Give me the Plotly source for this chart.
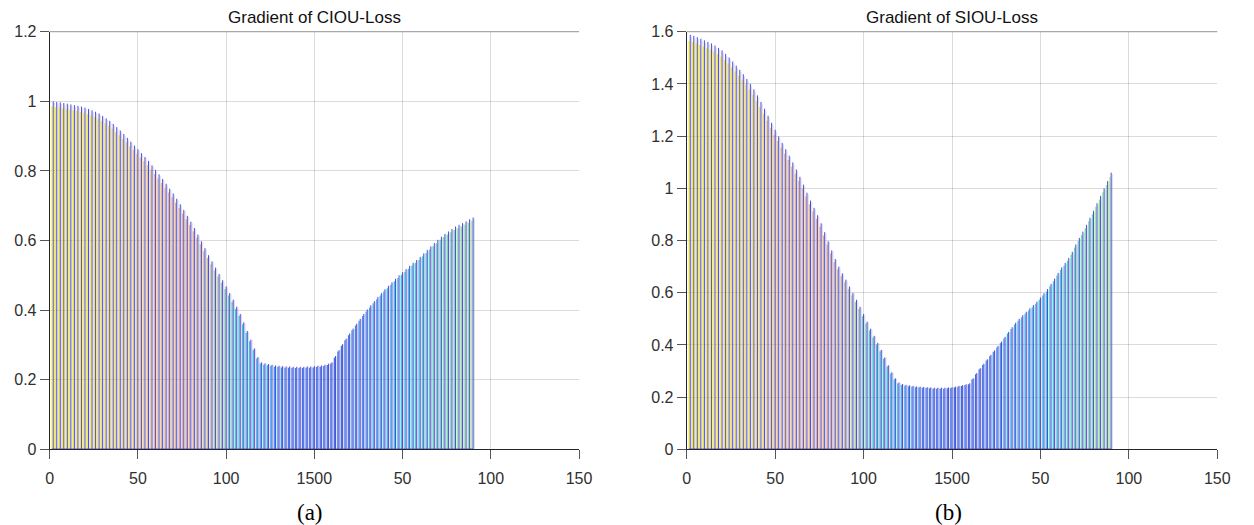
import plotly.graph_objects as go
from plotly.colors import sample_colorscale

# ---------------- data ----------------
stem_x = list(range(1, 121))

ciou_grad = [
    1.000, 0.998, 0.997, 0.995, 0.993, 0.991, 0.989, 0.987, 0.985, 0.982,
    0.978, 0.974, 0.970, 0.965, 0.958, 0.951, 0.944, 0.935, 0.926, 0.916,
    0.906, 0.895, 0.884, 0.873, 0.862, 0.851, 0.840, 0.829, 0.816, 0.803,
    0.790, 0.777, 0.763, 0.749, 0.735, 0.720, 0.704, 0.688, 0.671, 0.654,
    0.636, 0.617, 0.598, 0.578, 0.558, 0.540, 0.522, 0.504, 0.486, 0.468,
    0.449, 0.430, 0.410, 0.389, 0.365, 0.340, 0.315, 0.290, 0.265, 0.250,
    0.247, 0.245, 0.243, 0.241, 0.240, 0.239, 0.238, 0.238, 0.237, 0.237,
    0.237, 0.237, 0.238, 0.238, 0.239, 0.240, 0.241, 0.243, 0.246, 0.250,
    0.268, 0.285, 0.302, 0.318, 0.333, 0.347, 0.361, 0.375, 0.389, 0.402,
    0.414, 0.426, 0.438, 0.449, 0.460, 0.470, 0.480, 0.490, 0.500, 0.509,
    0.518, 0.527, 0.536, 0.544, 0.553, 0.563, 0.573, 0.583, 0.593, 0.602,
    0.611, 0.619, 0.626, 0.633, 0.640, 0.645, 0.650, 0.655, 0.661, 0.666,
]

siou_grad = [
    1.588, 1.584, 1.579, 1.573, 1.567, 1.561, 1.555, 1.547, 1.538, 1.528,
    1.515, 1.501, 1.486, 1.470, 1.454, 1.437, 1.419, 1.400, 1.379, 1.356,
    1.331, 1.305, 1.278, 1.251, 1.224, 1.199, 1.174, 1.150, 1.125, 1.099,
    1.072, 1.044, 1.014, 0.983, 0.953, 0.925, 0.897, 0.866, 0.832, 0.797,
    0.762, 0.729, 0.700, 0.674, 0.650, 0.624, 0.599, 0.573, 0.546, 0.518,
    0.489, 0.462, 0.435, 0.408, 0.381, 0.352, 0.322, 0.295, 0.272, 0.256,
    0.250, 0.247, 0.245, 0.243, 0.241, 0.240, 0.239, 0.238, 0.237, 0.236,
    0.236, 0.236, 0.236, 0.237, 0.238, 0.240, 0.243, 0.246, 0.249, 0.253,
    0.272, 0.292, 0.311, 0.328, 0.345, 0.362, 0.379, 0.396, 0.413, 0.431,
    0.450, 0.468, 0.485, 0.500, 0.514, 0.527, 0.540, 0.553, 0.566, 0.582,
    0.598, 0.614, 0.634, 0.654, 0.676, 0.697, 0.714, 0.733, 0.757, 0.785,
    0.810, 0.834, 0.860, 0.887, 0.914, 0.943, 0.971, 1.000, 1.028, 1.060,
]

x_tickvals = [0, 25, 50, 75, 100, 125, 150]
x_ticktext = ["0", "50", "100", "1500", "50", "100", "150"]
y_ticks_a = [0, 0.2, 0.4, 0.6, 0.8, 1.0, 1.2]
y_text_a = ["0", "0.2", "0.4", "0.6", "0.8", "1", "1.2"]
y_ticks_b = [0, 0.2, 0.4, 0.6, 0.8, 1.0, 1.2, 1.4, 1.6]
y_text_b = ["0", "0.2", "0.4", "0.6", "0.8", "1", "1.2", "1.4", "1.6"]

titles = ["Gradient of CIOU-Loss", "Gradient of SIOU-Loss"]
captions = ["(a)", "(b)"]

# ---------------- style ----------------
COLOR_STOPS = [
    [0.00, "#fff200"], [0.15, "#f8e040"], [0.22, "#f4c070"], [0.33, "#f0a878"],
    [0.39, "#b8cc88"], [0.44, "#30d0c8"], [0.50, "#30b4ea"], [0.57, "#3a7cf0"],
    [0.68, "#3a6ce8"], [0.76, "#40a8f0"], [0.86, "#30d0e0"], [0.95, "#70e0a0"],
    [1.00, "#98e880"],
]
PURPLE = "rgba(60,60,205,0.9)"
LAVENDER = "rgba(150,150,232,0.35)"
FONT = "Liberation Sans, Arial, sans-serif"

fig = go.Figure()

panels = [("x", "y", ciou_grad), ("x2", "y2", siou_grad)]
n = len(stem_x)
colors = sample_colorscale(COLOR_STOPS, [i / (n - 1) for i in range(n)])

for xa, ya, vals in panels:
    # lavender stems
    lx, ly = [], []
    for xi, v in zip(stem_x, vals):
        lx += [xi + 0.36, xi + 0.36, None]
        ly += [0, v * 0.995, None]
    fig.add_trace(go.Scatter(x=lx, y=ly, mode="lines",
                             line=dict(color=LAVENDER, width=1),
                             xaxis=xa, yaxis=ya, showlegend=False, hoverinfo="skip"))
    # colored stems
    for xi, v, c in zip(stem_x, vals, colors):
        fig.add_trace(go.Scatter(
            x=[xi - 0.33, xi - 0.33], y=[0, v * 0.985], mode="lines",
            line=dict(color=c, width=1.2), xaxis=xa, yaxis=ya,
            showlegend=False, hoverinfo="skip"))
    # dark stems
    px, py = [], []
    for xi, v in zip(stem_x, vals):
        px += [xi, xi, None]
        py += [0, v, None]
    fig.add_trace(go.Scatter(x=px, y=py, mode="lines",
                             line=dict(color=PURPLE, width=1),
                             xaxis=xa, yaxis=ya, showlegend=False, hoverinfo="skip"))
    # baseline
    fig.add_trace(go.Scatter(x=[stem_x[0] - 0.4, stem_x[-1]], y=[0, 0], mode="lines",
                             line=dict(color="rgba(70,70,210,0.9)", width=1.5),
                             xaxis=xa, yaxis=ya, showlegend=False, hoverinfo="skip"))

axis_common = dict(
    showline=True, linecolor="#262626", linewidth=1, automargin=False,
    ticks="outside", ticklen=9, tickcolor="#555555", tickwidth=1,
    showgrid=True, gridcolor="rgba(0,0,0,0.14)", gridwidth=1,
    zeroline=False, tickfont=dict(family=FONT, size=16, color="#303030"),
)

dom_a = [49.7 / 1254, 579.0 / 1254]
dom_b = [686.7 / 1254, 1217.3 / 1254]
dom_y = [1 - 449.3 / 525, 1 - 31.7 / 525]

fig.update_layout(
    width=1254, height=525, autosize=False,
    margin=dict(l=0, r=0, t=0, b=0, pad=0),
    paper_bgcolor="white", plot_bgcolor="white",
    xaxis=dict(domain=dom_a, range=[0, 150], tickvals=x_tickvals, ticktext=x_ticktext,
               anchor="y", ticklabelstandoff=5, **axis_common),
    yaxis=dict(domain=dom_y, range=[0, 1.2], tickvals=y_ticks_a, ticktext=y_text_a,
               anchor="x", **axis_common),
    xaxis2=dict(domain=dom_b, range=[0, 150], tickvals=x_tickvals, ticktext=x_ticktext,
                anchor="y2", ticklabelstandoff=5, **axis_common),
    yaxis2=dict(domain=dom_y, range=[0, 1.6], tickvals=y_ticks_b, ticktext=y_text_b,
                anchor="x2", **axis_common),
)

# top border of each axes box
for xa, ya in [("x", "y"), ("x2", "y2")]:
    fig.add_shape(type="line", xref=f"{xa} domain", yref=f"{ya} domain",
                  x0=0, x1=1, y0=1, y1=1, line=dict(color="#a8a8a8", width=1.2))

centers = [(dom_a[0] + dom_a[1]) / 2, (dom_b[0] + dom_b[1]) / 2]
for cx, t, cap in zip(centers, titles, captions):
    fig.add_annotation(text=t, x=cx, y=1 - 17 / 525, xref="paper", yref="paper",
                       showarrow=False, xanchor="center", yanchor="middle",
                       font=dict(family=FONT, size=17, color="#111111"))
    fig.add_annotation(text=cap, x=cx - 4 / 1254, y=1 - 512 / 525, xref="paper", yref="paper",
                       showarrow=False, xanchor="center", yanchor="middle",
                       font=dict(family="Liberation Serif, Times New Roman, serif",
                                 size=23, color="#000000"))

fig.write_html("out.html", post_script="document.body.style.margin='0';")
